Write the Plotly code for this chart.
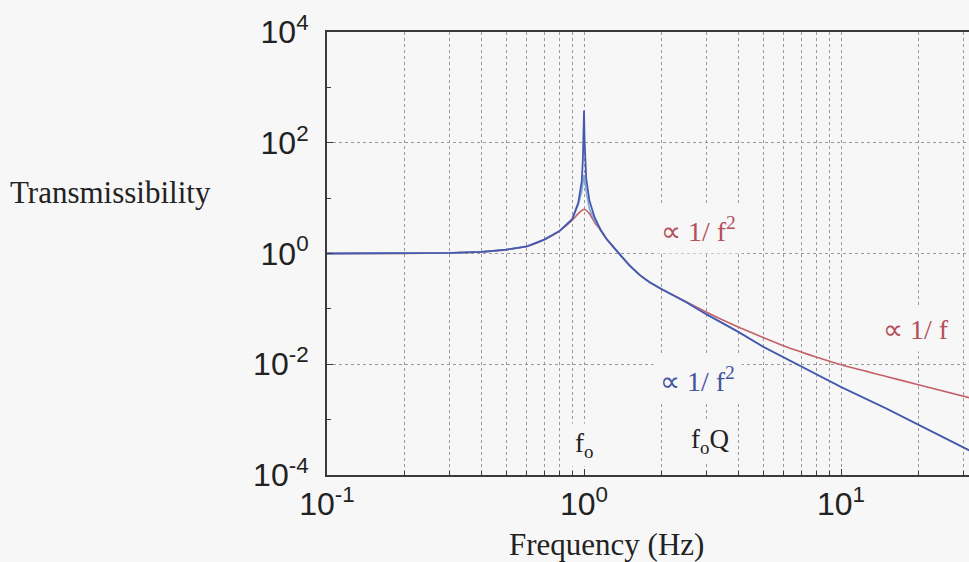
import plotly.graph_objects as go

# ---- data (transmissibility values are log10) ----
freq_red = [0.1, 0.2, 0.3, 0.4, 0.5, 0.6, 0.7, 0.8, 0.9, 0.95, 1.0, 1.05, 1.1, 1.16, 1.22,
            1.3, 1.4, 1.5, 1.65, 1.8, 2.0, 2.5, 3.0, 3.5, 4.0, 5.0, 6.0, 7.0, 8.0, 10.0, 15.0, 20.0, 32.0]
logT_red = [0.0, 0.0, 0.01, 0.03, 0.07, 0.13, 0.25, 0.40, 0.60, 0.72, 0.80, 0.72, 0.56, 0.42, 0.27,
            0.12, -0.06, -0.21, -0.39, -0.52, -0.64, -0.87, -1.06, -1.21, -1.33, -1.52, -1.67, -1.78, -1.87, -2.01, -2.22, -2.37, -2.61]

freq_lightblue = [0.1, 0.2, 0.3, 0.4, 0.5, 0.6, 0.7, 0.8, 0.9, 0.95, 0.98, 1.0, 1.02, 1.05,
                  1.1, 1.16, 1.22, 1.3, 1.4, 1.5, 1.65, 1.8, 2.0, 2.5, 3.0, 3.5, 4.0, 5.0, 6.0, 7.0, 8.0, 10.0, 15.0, 20.0, 32.0]
logT_lightblue = [0.0, 0.0, 0.01, 0.03, 0.07, 0.13, 0.25, 0.40, 0.62, 0.88, 1.12, 1.42, 1.12, 0.80,
                  0.60, 0.43, 0.27, 0.12, -0.06, -0.21, -0.39, -0.52, -0.64, -0.88, -1.10, -1.27, -1.42, -1.69, -1.88, -2.05, -2.19, -2.41, -2.80, -3.09, -3.57]

freq_blue = [0.1, 0.2, 0.3, 0.4, 0.5, 0.6, 0.7, 0.8, 0.9, 0.95, 0.98, 0.99, 0.995, 1.0, 1.005,
             1.01, 1.02, 1.05, 1.1, 1.16, 1.22, 1.3, 1.4, 1.5, 1.65, 1.8, 2.0, 2.5, 3.0, 3.5, 4.0, 5.0, 6.0,
             7.0, 8.0, 10.0, 15.0, 20.0, 32.0]
logT_blue = [0.0, 0.0, 0.01, 0.03, 0.07, 0.13, 0.25, 0.40, 0.62, 0.92, 1.30, 1.70, 2.05, 2.58, 2.05,
             1.70, 1.35, 0.95, 0.65, 0.43, 0.27, 0.12, -0.06, -0.21, -0.39, -0.52, -0.64, -0.88, -1.10, -1.27, -1.42, -1.69, -1.88,
             -2.05, -2.19, -2.41, -2.80, -3.09, -3.57]

x_major = [0.1, 1, 10]
x_major_text = ["10<sup>-1</sup>", "10<sup>0</sup>", "10<sup>1</sup>"]
x_minor = [0.2, 0.3, 0.4, 0.5, 0.6, 0.7, 0.8, 0.9, 2, 3, 4, 5, 6, 7, 8, 9, 20, 30]
y_major = [1e-4, 1e-2, 1, 1e2, 1e4]
y_major_text = ["10<sup>-4</sup>", "10<sup>-2</sup>", "10<sup>0</sup>", "10<sup>2</sup>", "10<sup>4</sup>"]
y_minor = [1e-3, 1e-1, 1e1, 1e3]

RED = "#c4606a"
BLUE = "#4659ad"
LIGHTBLUE = "#7fa9d8"
GRID = "#9a9a9a"
AXIS = "#3a3a3a"
BG = "#f7f7f7"

fig = go.Figure()
fig.add_trace(go.Scatter(x=freq_red, y=[10 ** v for v in logT_red], mode="lines",
                         line=dict(color=RED, width=1.6, shape="spline", smoothing=0.6), showlegend=False))
fig.add_trace(go.Scatter(x=freq_lightblue, y=[10 ** v for v in logT_lightblue], mode="lines",
                         line=dict(color=LIGHTBLUE, width=1.6), showlegend=False))
fig.add_trace(go.Scatter(x=freq_blue, y=[10 ** v for v in logT_blue], mode="lines",
                         line=dict(color=BLUE, width=1.8), showlegend=False))

tickfont = dict(family="Liberation Sans, Arial, sans-serif", size=32, color="#222")
serif = "Liberation Serif, Times New Roman, serif"

fig.update_xaxes(type="log", range=[-1, 1.498],
                 tickmode="array", tickvals=x_major, ticktext=x_major_text,
                 tickfont=tickfont, ticks="inside", ticklen=6, tickcolor=AXIS,
                 showgrid=True, gridcolor=GRID, gridwidth=1, griddash="dot",
                 showline=True, linecolor=AXIS, linewidth=2, mirror=True,
                 minor=dict(tickmode="array", tickvals=x_minor, ticks="inside", ticklen=4,
                            tickcolor=AXIS, showgrid=True, gridcolor=GRID, gridwidth=1, griddash="dot"),
                 zeroline=False)
fig.update_yaxes(type="log", range=[-4, 4],
                 tickmode="array", tickvals=y_major, ticktext=y_major_text,
                 tickfont=tickfont, ticks="inside", ticklen=6, tickcolor=AXIS,
                 showgrid=True, gridcolor=GRID, gridwidth=1, griddash="dot",
                 showline=True, linecolor=AXIS, linewidth=2, mirror=False,
                 minor=dict(tickmode="array", tickvals=y_minor, ticks="inside", ticklen=4,
                            tickcolor=AXIS, showgrid=False),
                 zeroline=False, ticklabelstandoff=10)

ann = []
ann.append(dict(x=0.445, y=0.43, xref="x", yref="y", text="∝ 1/ f<sup>2</sup>", showarrow=False,
                font=dict(family=serif, size=28, color="#b3505b"), bgcolor=BG, borderpad=6))
ann.append(dict(x=1.29, y=-1.38, xref="x", yref="y", text="∝ 1/ f", showarrow=False,
                font=dict(family=serif, size=28, color="#b3505b"), bgcolor=BG, borderpad=6))
ann.append(dict(x=0.44, y=-2.28, xref="x", yref="y", text="∝ 1/ f<sup>2</sup>", showarrow=False,
                font=dict(family=serif, size=28, color="#42549f"), bgcolor=BG, borderpad=6))
ann.append(dict(x=0.0, y=-3.45, xref="x", yref="y", text="f<sub>o</sub>", showarrow=False,
                font=dict(family=serif, size=27, color="#222"), bgcolor=BG, borderpad=4))
ann.append(dict(x=0.49, y=-3.38, xref="x", yref="y", text="f<sub>o</sub>Q", showarrow=False,
                font=dict(family=serif, size=27, color="#222"), bgcolor=BG, borderpad=4))
ann.append(dict(x=0.0875, y=-0.158, xref="x", yref="paper", text="Frequency (Hz)", showarrow=False,
                font=dict(family=serif, size=31, color="#222"), xanchor="center", yanchor="middle"))
ann.append(dict(x=-0.338, y=0.637, xref="paper", yref="paper", text="Transmissibility", showarrow=False,
                font=dict(family=serif, size=31, color="#222"), xanchor="center", yanchor="middle"))

fig.update_layout(width=969, height=562,
                  margin=dict(l=327, r=0, t=32, b=87),
                  paper_bgcolor=BG, plot_bgcolor=BG,
                  annotations=ann, showlegend=False)

fig.write_html("out.html", config={"displayModeBar": False},
               post_script="document.body.style.margin='0';document.body.style.overflow='hidden';document.body.style.background='" + BG + "';")
